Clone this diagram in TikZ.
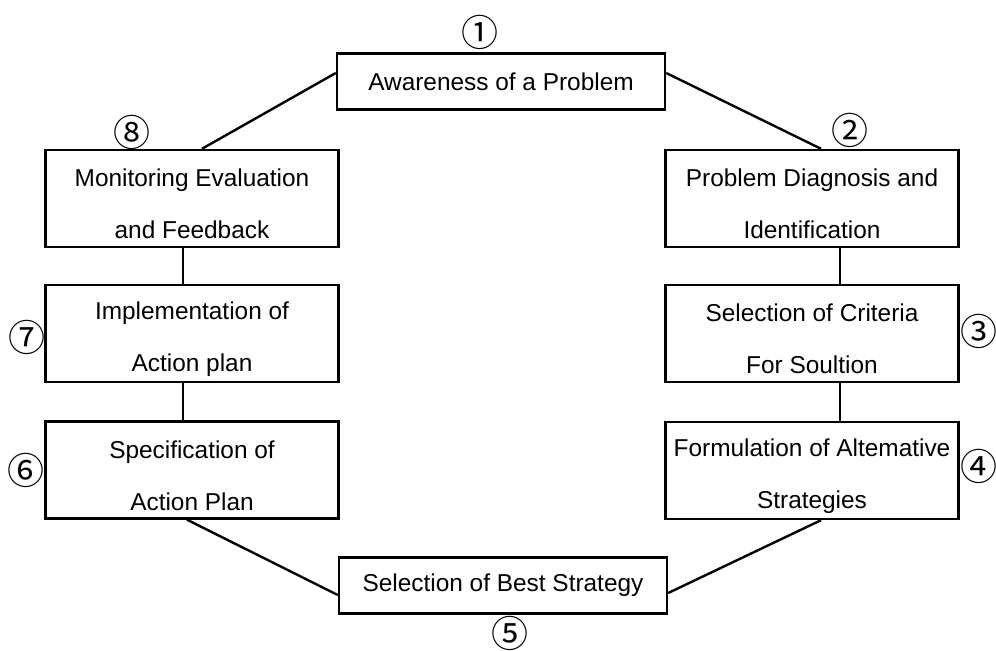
\documentclass[tikz,border=0pt]{standalone}
\usepackage{fontspec}
\setmainfont{Liberation Sans}
\newfontfamily\circfont{Noto Sans CJK KR}
% taller first line, so the two lines sit a little low in their box
\newcommand\firstline{\rule{0pt}{14.5pt}}
\begin{document}
\begin{tikzpicture}[x=0.5pt,y=-0.5pt,
  stage/.style={draw=black, line width=1.2pt, inner sep=0pt, align=center,
    font=\fontsize{12.2}{26}\selectfont},
  sidebox/.style={stage, minimum width=146.5pt, minimum height=48.5pt},
  widebox/.style={stage, minimum width=164pt, minimum height=28pt},
  link/.style={draw=black, line width=1.2pt},
  num/.style={inner sep=0pt, font=\circfont\fontsize{18.5}{18.5}\selectfont}]
\useasboundingbox (0,0) rectangle (996,651);

% stage boxes
\node[widebox] (aware) at (501,81.5) {Awareness of a Problem};
\node[sidebox] (diag)  at (812,198.5) {\firstline Problem Diagnosis and\\Identification};
\node[sidebox] (crit)  at (812,333.5) {\firstline Selection of Criteria\\For Soultion};
\node[sidebox] (form)  at (812,470.5) {\firstline Formulation of Altemative\\Strategies};
\node[widebox] (best)  at (503,585.5) {Selection of Best Strategy};
\node[sidebox] (spec)  at (192,470) {\firstline Specification of\\Action Plan};
\node[sidebox] (impl)  at (192,333.5) {\firstline Implementation of\\Action plan};
\node[sidebox] (mon)   at (192,198.5) {\firstline Monitoring Evaluation\\and Feedback};

% step numbers
\node[num] (n1) at (480,32)  {①};
\node[num] (n2) at (850,130) {②};
\node[num] (n3) at (979,331) {③};
\node[num] (n4) at (979,466) {④};
\node[num] (n5) at (510,633) {⑤};
\node[num] (n6) at (26,470)  {⑥};
\node[num] (n7) at (27,337)  {⑦};
\node[num] (n8) at (132,132) {⑧};

% connectors
\draw[link] ([yshift=4.25pt]aware.east) -- ([xshift=4.5pt]diag.north);
\draw[link] ([xshift=14pt]diag.south) -- ([xshift=14pt]crit.north);
\draw[link] ([xshift=14pt]crit.south) -- ([xshift=14pt]form.north);
\draw[link] ([xshift=4.5pt]form.south) -- ([yshift=-3.75pt]best.east);
\draw[link] ([xshift=-2.5pt]spec.south) -- ([yshift=-4.75pt]best.west);
\draw[link] ([xshift=-4.5pt]spec.north) -- ([xshift=-4.5pt]impl.south);
\draw[link] ([xshift=-4.5pt]impl.north) -- ([xshift=-4.5pt]mon.south);
\draw[link] ([xshift=5pt]mon.north) -- ([yshift=4.25pt]aware.west);
\end{tikzpicture}
\end{document}
